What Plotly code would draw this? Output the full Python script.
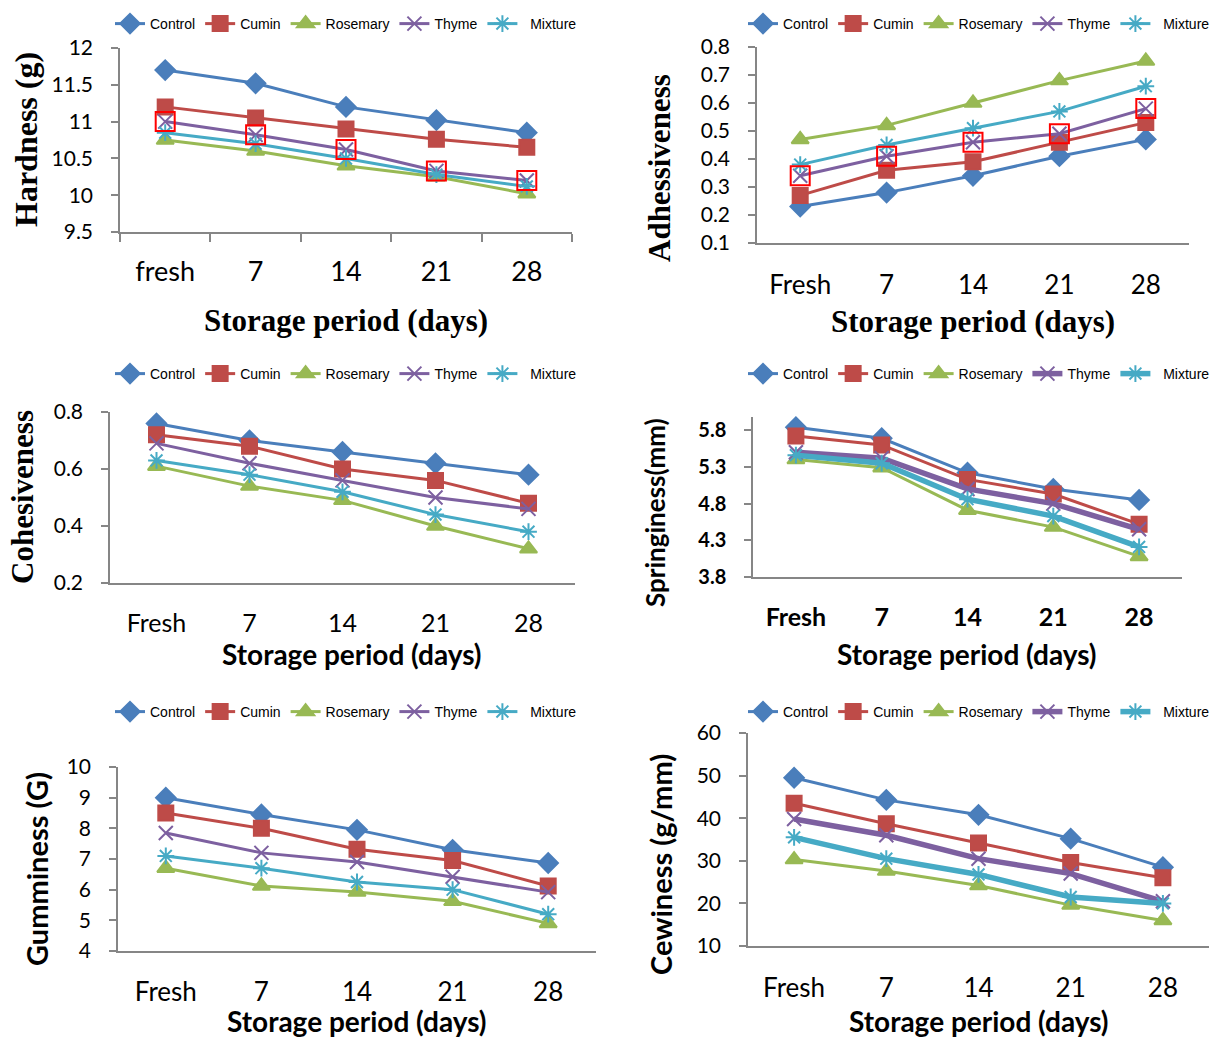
import plotly.graph_objects as go

W, H = 1211, 1039

series = ["Control", "Cumin", "Rosemary", "Thyme", "Mixture"]
legend_names = ["Control", "Cumin", "Rosemary", "Thyme", "\u00a0\u00a0Mixture"]
colors = ["#4A7EBB", "#BE4B48", "#98B954", "#7D60A0", "#46AAC5"]
symbols = ["diamond", "square", "triangle-up", "x-thin-open", "asterisk-open"]

days_lower = ["fresh", "7", "14", "21", "28"]
days_upper = ["Fresh", "7", "14", "21", "28"]

hardness_control = [11.70, 11.52, 11.20, 11.02, 10.85]
hardness_cumin = [11.20, 11.05, 10.90, 10.76, 10.65]
hardness_rosemary = [10.75, 10.60, 10.40, 10.25, 10.02]
hardness_thyme = [11.00, 10.82, 10.62, 10.33, 10.20]
hardness_mixture = [10.85, 10.70, 10.50, 10.28, 10.12]

adhes_control = [0.23, 0.28, 0.34, 0.41, 0.47]
adhes_cumin = [0.27, 0.36, 0.39, 0.46, 0.53]
adhes_rosemary = [0.47, 0.52, 0.60, 0.68, 0.75]
adhes_thyme = [0.34, 0.41, 0.46, 0.49, 0.58]
adhes_mixture = [0.38, 0.45, 0.51, 0.57, 0.66]

cohes_control = [0.76, 0.70, 0.66, 0.62, 0.58]
cohes_cumin = [0.72, 0.68, 0.60, 0.56, 0.48]
cohes_rosemary = [0.61, 0.54, 0.49, 0.40, 0.32]
cohes_thyme = [0.69, 0.62, 0.56, 0.50, 0.46]
cohes_mixture = [0.63, 0.58, 0.52, 0.44, 0.38]

spring_control = [5.84, 5.69, 5.22, 5.00, 4.85]
spring_cumin = [5.72, 5.60, 5.13, 4.93, 4.52]
spring_rosemary = [5.40, 5.29, 4.71, 4.48, 4.08]
spring_thyme = [5.50, 5.42, 5.00, 4.80, 4.45]
spring_mixture = [5.46, 5.35, 4.86, 4.63, 4.21]

gum_control = [9.00, 8.45, 7.95, 7.30, 6.87]
gum_cumin = [8.50, 8.00, 7.32, 6.95, 6.12]
gum_rosemary = [6.70, 6.12, 5.92, 5.62, 4.90]
gum_thyme = [7.85, 7.20, 6.90, 6.42, 5.92]
gum_mixture = [7.10, 6.70, 6.25, 6.00, 5.20]

chew_control = [49.5, 44.3, 40.8, 35.2, 28.5]
chew_cumin = [43.5, 38.7, 34.2, 29.6, 26.0]
chew_rosemary = [30.3, 27.6, 24.2, 19.6, 16.0]
chew_thyme = [39.8, 36.0, 30.5, 27.0, 20.5]
chew_mixture = [35.5, 30.5, 26.8, 21.5, 20.0]

GRAY = "#868686"
SERIF = "Liberation Serif"
SANS = "Lato"
LEGFONT = "Liberation Sans"

def px_x(x):
    return x / W

def px_y(y):
    return (H - y) / H

panels = [
    dict(cats=days_lower, data=[hardness_control, hardness_cumin, hardness_rosemary, hardness_thyme, hardness_mixture],
         box=(120, 572, 48, 232), yr=[9.5, 12], dt=0.5, t0=9.5, fmt=None, xticks=True, xstand=15,
         ytitle="Hardness (g)", yfont=(SERIF, 32, "bold"), ytx=26, yty=140,
         xtfont=(SANS, 27, "normal"), ytfont=(SANS, 21, "normal"),
         xtitle="Storage period (days)", xtitlefont=(SERIF, 31, "bold"), xtx=346, xty=320,
         legy=24, legx=110, red=True, thick=[]),
    dict(cats=days_upper, data=[adhes_control, adhes_cumin, adhes_rosemary, adhes_thyme, adhes_mixture],
         box=(757, 1189, 47, 243), yr=[0.1, 0.8], dt=0.1, t0=0.1, fmt=".1f", xticks=False, xstand=18,
         ytitle="Adhessiveness", yfont=(SERIF, 31, "bold"), ytx=660, yty=168,
         xtfont=(SANS, 26, "normal"), ytfont=(SANS, 21, "normal"),
         xtitle="Storage period (days)", xtitlefont=(SERIF, 31, "bold"), xtx=973, xty=321,
         legy=24, legx=743, red=True, thick=[]),
    dict(cats=days_upper, data=[cohes_control, cohes_cumin, cohes_rosemary, cohes_thyme, cohes_mixture],
         box=(110, 575, 412, 583), yr=[0.2, 0.8], dt=0.2, t0=0.2, fmt=".1f", xticks=False, xstand=17,
         ytitle="Cohesiveness", yfont=(SERIF, 31, "bold"), ytx=22, yty=497,
         xtfont=(SANS, 25, "normal"), ytfont=(SANS, 21, "normal"),
         xtitle="Storage period (days)", xtitlefont=(SANS, 28, "bold"), xty=654, xtx=352,
         legy=374, legx=110, red=False, thick=[]),
    dict(cats=days_upper, data=[spring_control, spring_cumin, spring_rosemary, spring_thyme, spring_mixture],
         box=(753, 1182, 417, 577), yr=[3.8, 5.98], dt=0.5, t0=3.8, fmt=".1f", xticks=False, xstand=17,
         ytitle="Springiness(mm)", yfont=(SANS, 26, "bold"), ytx=655, yty=513,
         xtfont=(SANS, 25, "bold"), ytfont=(SANS, 20, "bold"),
         xtitle="Storage period (days)", xtitlefont=(SANS, 28, "bold"), xty=654, xtx=967,
         legy=374, legx=743, red=False, thick=[3, 4]),
    dict(cats=days_upper, data=[gum_control, gum_cumin, gum_rosemary, gum_thyme, gum_mixture],
         box=(118, 596, 767, 951), yr=[4, 10], dt=1, t0=4, fmt=None, xticks=False, xstand=17,
         ytitle="Gumminess (G)", yfont=(SANS, 29, "bold"), ytx=37, yty=869,
         xtfont=(SANS, 26, "normal"), ytfont=(SANS, 21, "normal"),
         xtitle="Storage period (days)", xtitlefont=(SANS, 28, "bold"), xty=1021, xtx=357,
         legy=712, legx=110, red=False, thick=[]),
    dict(cats=days_upper, data=[chew_control, chew_cumin, chew_rosemary, chew_thyme, chew_mixture],
         box=(748, 1209, 733, 946), yr=[10, 60], dt=10, t0=10, fmt=None, xticks=False, xstand=18,
         ytitle="Cewiness (g/mm)", yfont=(SANS, 29, "bold"), ytx=660, yty=865,
         xtfont=(SANS, 26, "normal"), ytfont=(SANS, 21, "normal"),
         xtitle="Storage period (days)", xtitlefont=(SANS, 28, "bold"), xty=1021, xtx=979,
         legy=712, legx=743, red=False, thick=[3, 4]),
]

fig = go.Figure()
annotations = []
layout = dict(width=W, height=H, margin=dict(l=0, r=0, t=0, b=0, autoexpand=False),
              plot_bgcolor="white", paper_bgcolor="white", showlegend=True)

for i, p in enumerate(panels):
    n = i + 1
    xa = "x" if n == 1 else f"x{n}"
    ya = "y" if n == 1 else f"y{n}"
    leg = "legend" if n == 1 else f"legend{n}"
    x0, x1, ytop, ybot = p["box"]
    for s in range(5):
        lw = 5.5 if s in p["thick"] else 3
        fig.add_trace(go.Scatter(
            x=p["cats"], y=p["data"][s], name=legend_names[s], mode="lines+markers",
            line=dict(color=colors[s], width=lw),
            marker=dict(symbol=symbols[s], size=15 if s < 3 else 14, color=colors[s],
                        line=dict(color=colors[s], width=2)),
            xaxis=xa, yaxis=ya, legend=leg, cliponaxis=False))
    if p["red"]:
        fig.add_trace(go.Scatter(
            x=p["cats"], y=p["data"][3], mode="markers", showlegend=False,
            marker=dict(symbol="square-open", size=19, color="#FF0000", line=dict(width=2, color="#FF0000")),
            xaxis=xa, yaxis=ya, cliponaxis=False, hoverinfo="skip"))
    xkey = "xaxis" if n == 1 else f"xaxis{n}"
    ykey = "yaxis" if n == 1 else f"yaxis{n}"
    layout[xkey] = dict(
        domain=[px_x(x0), px_x(x1)], anchor=ya, type="category",
        categoryorder="array", categoryarray=p["cats"], range=[-0.5, 4.5],
        showline=True, linecolor=GRAY, linewidth=1.5, showgrid=False, zeroline=False,
        ticks="outside" if p["xticks"] else "", tickson="boundaries", ticklen=8, tickcolor=GRAY,
        tickwidth=1.5,
        tickfont=dict(family=p["xtfont"][0], size=p["xtfont"][1], color="black", weight=p["xtfont"][2]),
        ticklabelstandoff=p["xstand"], fixedrange=True)
    layout[ykey] = dict(
        domain=[px_y(ybot), px_y(ytop)], anchor=xa, range=p["yr"],
        tick0=p["t0"], dtick=p["dt"], tickformat=p["fmt"],
        showline=True, linecolor=GRAY, linewidth=1.5, showgrid=False, zeroline=False,
        ticks="outside", ticklen=7, tickcolor=GRAY, tickwidth=1.5,
        tickfont=dict(family=p["ytfont"][0], size=p["ytfont"][1], color="black", weight=p["ytfont"][2]),
        ticklabelstandoff=14, fixedrange=True)
    layout[leg] = dict(
        orientation="h", x=px_x(p["legx"]), y=px_y(p["legy"]), xanchor="left", yanchor="middle",
        font=dict(family=LEGFONT, size=14, color="black"), bgcolor="rgba(0,0,0,0)",
        itemwidth=30, tracegroupgap=0, itemclick=False, itemdoubleclick=False)
    annotations.append(dict(
        text=p["ytitle"], xref="paper", yref="paper", x=px_x(p["ytx"]),
        y=px_y(p["yty"]), textangle=-90, showarrow=False,
        xanchor="center", yanchor="middle",
        font=dict(family=p["yfont"][0], size=p["yfont"][1], color="black", weight=p["yfont"][2])))
    annotations.append(dict(
        text=p["xtitle"], xref="paper", yref="paper", x=px_x(p["xtx"]),
        y=px_y(p["xty"]), showarrow=False, xanchor="center", yanchor="middle",
        font=dict(family=p["xtitlefont"][0], size=p["xtitlefont"][1], color="black", weight=p["xtitlefont"][2])))

layout["annotations"] = annotations
fig.update_layout(**layout)
fig.write_html("out.html", config={"displayModeBar": False},
               post_script="document.body.style.margin='0';document.body.style.overflow='hidden';")
